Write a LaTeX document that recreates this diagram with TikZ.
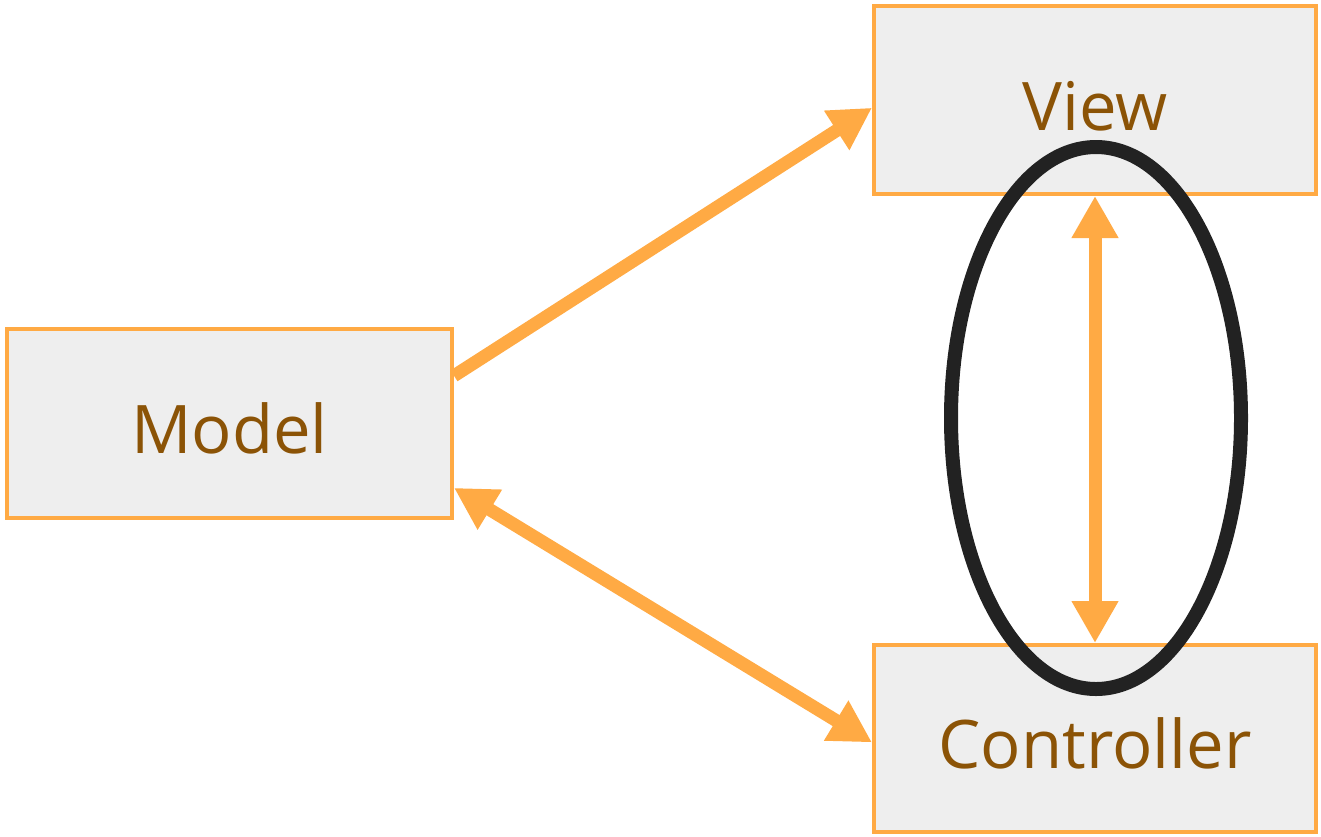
\documentclass[tikz,border=0pt]{standalone}
\usepackage{fontspec}
\setmainfont{Open Sans}
\usetikzlibrary{arrows.meta,shapes.geometric}

\definecolor{boxorange}{HTML}{FFAA44}
\definecolor{boxfill}{HTML}{EEEEEE}
\definecolor{labelbrown}{HTML}{8B5306}
\definecolor{loopgray}{HTML}{222222}

\tikzset{
  mvcbox/.style={draw=boxorange, fill=boxfill, line width=4pt, rectangle,
    text=labelbrown, font=\fontsize{67}{80}\selectfont,
    text height=60pt, text depth=0pt},
  flow/.style={draw=boxorange, line width=13pt},
  tip/.tip={Triangle[length=42pt,width=44pt]}
}

\begin{document}
\begin{tikzpicture}[x=1pt, y=-1pt]
\useasboundingbox (0,0) rectangle (1321,836);

\node [mvcbox, minimum width=445pt, minimum height=189pt] (model) at (229.5,423.5) {Model};
\node [mvcbox, minimum width=442pt, minimum height=188pt] (view) at (1095,100) {View};
\node [mvcbox, minimum width=442pt, minimum height=187pt] (controller) at (1095,738.5) {Controller};

% arrows between the parts
\draw [flow, -tip] (model.12) -- (view.182);
\draw [flow, tip-tip] (model.-16) -- (controller.181);
\draw [flow, tip-tip] (view.south) -- (controller.north);

\node [draw=loopgray, line width=14pt, ellipse, minimum width=290pt, minimum height=542pt] (loop) at (1096,418) {};

\end{tikzpicture}
\end{document}
